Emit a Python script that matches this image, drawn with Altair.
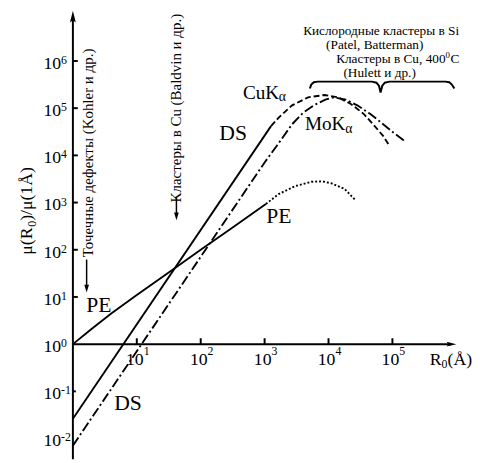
import altair as alt
import pandas as pd

# ---------------- data ----------------
X_TICK_EXP = [1, 2, 3, 4, 5]
Y_TICK_EXP = [-2, -1, 0, 1, 2, 3, 4, 5, 6]
Y_TICK_MARK_EXP = [-1, 1, 2, 3, 4, 5, 6]

# PE (solid part, then dotted part)
PE_SOLID_R0 = [1, 2.0, 3.98, 10, 31.6, 100, 316, 1047]
PE_SOLID_MU = [1, 2.14, 4.47, 11.0, 33.1, 100, 295, 933]
PE_DOT_R0 = [1047, 1660, 3020, 5370, 7940, 10960, 17780, 26920]
PE_DOT_MU = [933, 1514, 2239, 2754, 2818, 2570, 1950, 1096]

# DS, CuK-alpha (solid straight part, then dashed)
CU_SOLID_R0 = [1, 1259]
CU_SOLID_MU = [0.0263, 41700]
CU_DASH_R0 = [1259, 1660, 2692, 4786, 8710, 14125, 22387, 35481, 51286, 70795, 91201]
CU_DASH_MU = [41700, 63096, 114815, 169824, 190546, 169824, 123027, 75858, 43652, 26303, 15488]

# DS, MoK-alpha (dash-dot)
MO_R0 = [1, 1000, 1585, 2692, 3981, 6026, 8913, 12303, 18621, 28184, 44668, 64565, 100000, 158489]
MO_MU = [0.00708, 7079, 16596, 45709, 79433, 117490, 151356, 169824, 151356, 114815, 75858, 51286, 31623, 19498]

# curly brace above the peaks (log10 R0, log10 mu)
BRACE_LX = [3.708, 3.73, 3.77, 3.831, 4.677, 4.75, 4.79, 4.815, 4.84, 4.88, 4.954, 5.831, 5.89, 5.93, 5.969]
BRACE_LY = [5.417, 5.50, 5.55, 5.5625, 5.5625, 5.54, 5.47, 5.333, 5.47, 5.54, 5.5625, 5.5625, 5.55, 5.50, 5.417]

FONT = "'Liberation Serif', 'Times New Roman', 'DejaVu Serif', serif"
Y_MIN = 10 ** -2.4375
Y_MAX = 1e7

X = alt.X("x:Q", scale=alt.Scale(type="log", domain=[1, 1e6], nice=False), axis=None)
Y = alt.Y("y:Q", scale=alt.Scale(type="log", domain=[Y_MIN, Y_MAX], nice=False), axis=None)


def frame(xs, ys):
    return pd.DataFrame({"x": xs, "y": ys})


def line(xs, ys, dash=None, width=1.9):
    kw = dict(color="black", strokeWidth=width)
    if dash:
        kw["strokeDash"] = dash
    return alt.Chart(frame(xs, ys)).mark_line(**kw).encode(x=X, y=Y)


layers = []

# curves
layers.append(line(PE_SOLID_R0, PE_SOLID_MU))
layers.append(line(PE_DOT_R0, PE_DOT_MU, dash=[2, 2]))
layers.append(line(CU_SOLID_R0, CU_SOLID_MU))
layers.append(line(CU_DASH_R0, CU_DASH_MU, dash=[6, 3]))
layers.append(line(MO_R0, MO_MU, dash=[10, 3, 2, 3]))
layers.append(line([10 ** v for v in BRACE_LX], [10 ** v for v in BRACE_LY], width=2))

# axes lines (crossing at R0 = 1, mu = 1)
yaxis = pd.DataFrame({"x": [1], "y": [Y_MIN], "y2": [10 ** 6.9]})
layers.append(alt.Chart(yaxis).mark_rule(color="black", strokeWidth=2).encode(x=X, y=Y, y2="y2:Q"))
xaxis = pd.DataFrame({"x": [1], "x2": [10 ** 5.92], "y": [1]})
layers.append(alt.Chart(xaxis).mark_rule(color="black", strokeWidth=2).encode(x=X, x2="x2:Q", y=Y))

# arrow heads of axes
layers.append(alt.Chart(frame([1], [10 ** 6.94])).mark_point(
    shape="M0,-1L0.5,1L0,0.6L-0.5,1Z", filled=True, color="black", size=144, opacity=1, strokeWidth=0
).encode(x=X, y=Y))
layers.append(alt.Chart(frame([10 ** 5.923], [1])).mark_point(
    shape="M1,0L-1,0.5L-0.6,0L-1,-0.5Z", filled=True, color="black", size=100, opacity=1, strokeWidth=0
).encode(x=X, y=Y))

# ticks
xt = pd.DataFrame({"x": [10 ** e for e in X_TICK_EXP], "y": 1.0, "y2": 10 ** (6 / 48)})
layers.append(alt.Chart(xt).mark_rule(color="black", strokeWidth=2).encode(x=X, y=Y, y2="y2:Q"))
yt = pd.DataFrame({"x": 1.0, "x2": [10 ** ((3 if e < 0 else 5) / 65) for e in Y_TICK_MARK_EXP],
                   "y": [10 ** e for e in Y_TICK_MARK_EXP]})
layers.append(alt.Chart(yt).mark_rule(color="black", strokeWidth=2).encode(x=X, x2="x2:Q", y=Y))

# tick labels: "10" with superscript exponent
xl = pd.DataFrame({"x": [10 ** e for e in X_TICK_EXP], "y": 1.0,
                   "base": "10", "sup": [str(e) for e in X_TICK_EXP]})
layers.append(alt.Chart(xl).mark_text(font=FONT, fontSize=18, align="center", baseline="alphabetic",
                                      dx=-2, dy=21.5, color="black").encode(x=X, y=Y, text="base:N"))
layers.append(alt.Chart(xl).mark_text(font=FONT, fontSize=12, align="left", baseline="alphabetic",
                                      dx=7, dy=11, color="black").encode(x=X, y=Y, text="sup:N"))
yl = pd.DataFrame({"x": 1.0, "y": [10 ** e for e in Y_TICK_EXP],
                   "base": "10", "sup": [str(e) for e in Y_TICK_EXP]})
layers.append(alt.Chart(yl).mark_text(font=FONT, fontSize=18, align="right", baseline="alphabetic",
                                      dx=-12, dy=8, color="black").encode(x=X, y=Y, text="base:N"))
layers.append(alt.Chart(yl).mark_text(font=FONT, fontSize=12, align="left", baseline="alphabetic",
                                      dx=-12, dy=3, color="black").encode(x=X, y=Y, text="sup:N"))

# small arrows below the rotated annotations
arrows = pd.DataFrame({"x": [10 ** 0.215, 10 ** 1.62], "y": [10 ** 1.792, 10 ** 3.104],
                       "y2": [10 ** 1.229, 10 ** 2.77]})
layers.append(alt.Chart(arrows).mark_rule(color="black", strokeWidth=1.5).encode(x=X, y=Y, y2="y2:Q"))
heads = frame([10 ** 0.215, 10 ** 1.62], [10 ** 1.177, 10 ** 2.708])
layers.append(alt.Chart(heads).mark_point(
    shape="M0,1L-0.6,-1L0.6,-1Z", filled=True, color="black", size=64, opacity=1, strokeWidth=0
).encode(x=X, y=Y))

# text annotations
ANN = {
    "center": [
        ("DS", 2.508, 4.333, 22, 0),
        ("DS", 0.862, -1.396, 22, 0),
        ("PE", 0.408, 0.6875, 22, 0),
        ("PE", 3.223, 2.5625, 22, 0),
        ("Кислородные кластеры в Si", 4.823, 6.542, 13.5, 0),
        ("(Patel, Batterman)", 4.723, 6.25, 13.5, 0),
        ("(Hulett  и др.)", 4.8, 5.667, 13.5, 0),
        ("Точечные дефекты (Kohler и др.)", 0.308, 4.052, 15.2, 270),
        ("Кластеры в Cu (Baldvin и др.)", 1.692, 5.0, 15.2, 270),
    ],
    "right": [
        ("Кластеры в Cu, 400", 5.831, 5.958, 13.5, 0),
    ],
    "left": [
        ("0", 5.831, 6.0625, 9, 0),
        ("C", 5.908, 5.958, 13.5, 0),
        ("CuK", 2.662, 5.198, 19.5, 0),
        ("α", 3.22, 5.156, 14, 0),
        ("MoK", 3.631, 4.54, 19.5, 0),
        ("α", 4.26, 4.48, 14, 0),
        ("R", 5.585, -0.4375, 18, 0),
        ("0", 5.769, -0.5, 12, 0),
        ("(Å)", 5.862, -0.4375, 18, 0),
        ("μ(R", -0.646, 1.896, 18, 270),
        ("0", -0.585, 2.4875, 12, 270),
        (")/μ(1Å)", -0.646, 2.6125, 18, 270),
    ],
}
for align, rows in ANN.items():
    d = pd.DataFrame({
        "text": [r[0] for r in rows],
        "x": [10 ** r[1] for r in rows],
        "y": [10 ** r[2] for r in rows],
        "size": [r[3] for r in rows],
        "angle": [r[4] for r in rows],
    })
    layers.append(alt.Chart(d).mark_text(font=FONT, align=align, baseline="alphabetic", color="black").encode(
        x=X, y=Y, text="text:N",
        size=alt.Size("size:Q", scale=None),
        angle=alt.Angle("angle:Q", scale=None),
    ))

chart = alt.layer(*layers).properties(
    width=390, height=453,
    padding={"left": 66, "top": 2, "right": 20, "bottom": 0},
    autosize=alt.AutoSizeParams(type="none"),
).configure_view(stroke=None)

chart.save("out.html", embed_options={"renderer": "svg", "actions": False})
